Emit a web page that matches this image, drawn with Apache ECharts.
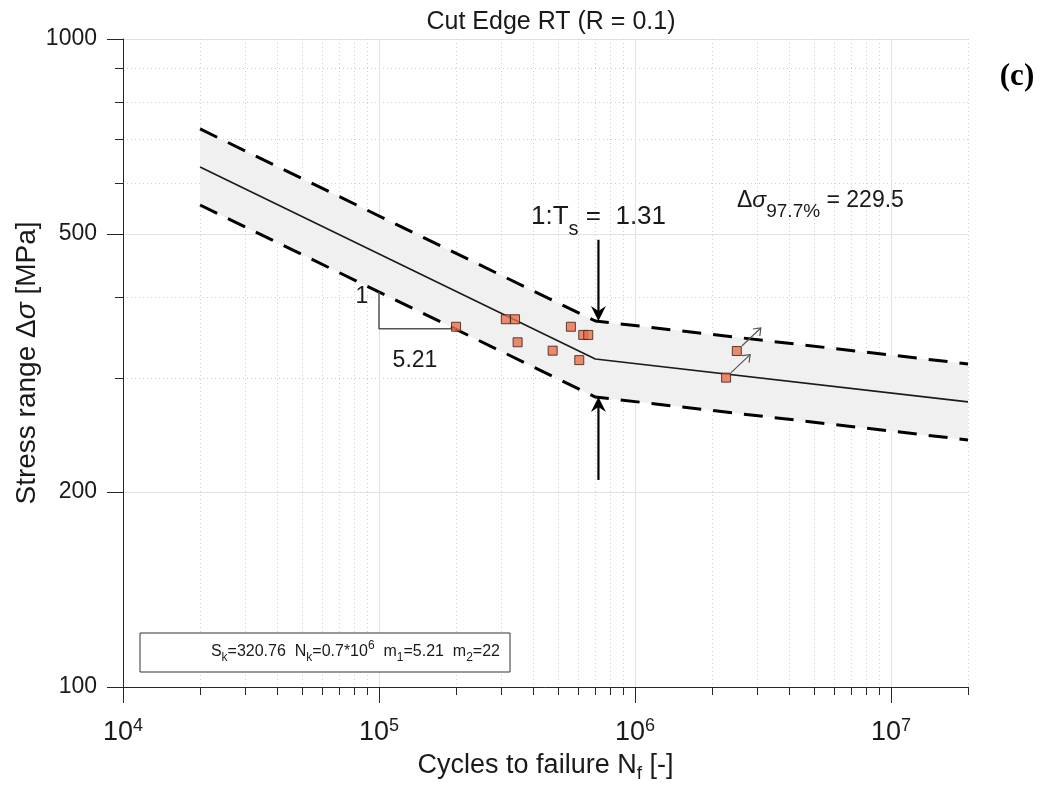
<!DOCTYPE html>
<html>
<head>
<meta charset="utf-8">
<title>Cut Edge RT (R = 0.1)</title>
<script src="https://cdn.jsdelivr.net/npm/echarts@6.0.0/dist/echarts.min.js"></script>
<style>
  html, body { margin: 0; padding: 0; background: #fff; }
  #chart { width: 1042px; height: 789px; }
</style>
</head>
<body>
<div id="chart"></div>
<script>
// test results (cycles to failure, stress range in MPa)
const testCycles = [2.0e5, 3.13e5, 3.40e5, 3.48e5, 4.77e5, 5.62e5, 6.06e5, 6.28e5, 6.57e5, 2.27e6, 2.50e6];
const testStress = [359.7, 369.4, 369.4, 340.4, 330.4, 359.7, 319.5, 349.4, 349.4, 300.2, 330.0];
// run-outs, drawn with a small arrow
const runoutCycles = [2.27e6, 2.50e6];
const runoutStress = [300.2, 330.0];

// S-N curve vertices: start, knee point, end
const curveCycles = [2.0e4, 7.0e5, 2.0e7];
const curveMean = [634.6, 320.8, 275.4];
const curveUpper = [726.4, 367.1, 315.2];
const curveLower = [554.4, 280.2, 240.6];

// slope triangle 1 : 5.21
const slopeCycles = [1e5, 1e5, 2e5];
const slopeStress = [407, 357, 357];

// scatter band arrows at the knee: cycles, from, to
const kneeArrowCycles = [7.2e5, 7.2e5];
const kneeArrowFrom = [490, 208.7];
const kneeArrowTo = [367, 280.2];

const xMajorTicks = [1e4, 1e5, 1e6, 1e7];
const xMinorTicks = [2e4, 3e4, 4e4, 5e4, 6e4, 7e4, 8e4, 9e4,
  2e5, 3e5, 4e5, 5e5, 6e5, 7e5, 8e5, 9e5,
  2e6, 3e6, 4e6, 5e6, 6e6, 7e6, 8e6, 9e6, 2e7];
const yMajorTicks = [100, 200, 500, 1000];
const yMinorTicks = [300, 400, 600, 700, 800, 900];

const FONT = 'Liberation Sans';
const INK = '#1a1a1a';
const AXIS = '#262626';

const chart = echarts.init(document.getElementById('chart'));

const gridBox = { left: 123, right: 74, top: 39, bottom: 102, outerBoundsMode: 'none' };

const zip = (xs, ys) => xs.map((x, i) => [x, ys[i]]);

const option = {
  backgroundColor: '#fff',
  animation: false,
  title: {
    text: 'Cut Edge RT (R = 0.1)',
    left: 546,
    top: 5,
    textAlign: 'center',
    textStyle: { fontFamily: FONT, fontSize: 25, fontWeight: 'normal', color: INK }
  },
  grid: [
    Object.assign({}, gridBox),
    Object.assign({}, gridBox)
  ],
  xAxis: [
    {
      type: 'log',
      gridIndex: 0,
      min: 1e4,
      max: 2e7,
      name: 'Cycles to failure N{sub|f} [-]',
      nameLocation: 'middle',
      nameGap: 61,
      nameTextStyle: {
        fontFamily: FONT, fontSize: 27, color: INK,
        rich: { sub: { fontFamily: FONT, fontSize: 19, color: INK, padding: [16, 0, 0, 0] } }
      },
      axisLine: { lineStyle: { color: AXIS, width: 1 } },
      axisTick: { customValues: xMajorTicks, length: 16, lineStyle: { color: AXIS, width: 1 } },
      axisLabel: {
        customValues: xMajorTicks,
        margin: 30,
        formatter: v => '{b|10}{e|' + Math.round(Math.log10(v)) + '}',
        rich: {
          b: { fontFamily: FONT, fontSize: 27, color: INK },
          e: { fontFamily: FONT, fontSize: 18, color: INK, padding: [0, 0, 14, 0] }
        }
      },
      splitLine: { show: true, lineStyle: { color: '#e2e2e2', width: 1 } }
    },
    {
      type: 'log',
      gridIndex: 1,
      min: 1e4,
      max: 2e7,
      axisLine: { show: false },
      axisTick: { customValues: xMinorTicks, length: 8, lineStyle: { color: AXIS, width: 1 } },
      axisLabel: { show: false },
      splitLine: { show: true, lineStyle: { color: '#cfcfcf', width: 1, type: [1, 3] } }
    }
  ],
  yAxis: [
    {
      type: 'log',
      gridIndex: 0,
      min: 100,
      max: 1000,
      name: 'Stress range \u0394{i|\u03c3} [MPa]',
      nameLocation: 'middle',
      nameGap: 82,
      nameMoveOverlap: false,
      nameTextStyle: {
        fontFamily: FONT, fontSize: 28, color: INK,
        rich: { i: { fontFamily: FONT, fontSize: 28, fontStyle: 'italic', color: INK } }
      },
      axisLine: { lineStyle: { color: AXIS, width: 1 } },
      axisTick: { customValues: yMajorTicks, length: 16, lineStyle: { color: AXIS, width: 1 } },
      axisLabel: {
        customValues: yMajorTicks,
        margin: 26,
        formatter: v => String(Math.round(v)),
        fontFamily: FONT, fontSize: 23, color: INK
      },
      splitLine: { show: true, lineStyle: { color: '#e2e2e2', width: 1 } }
    },
    {
      type: 'log',
      gridIndex: 1,
      min: 100,
      max: 1000,
      axisLine: { show: false },
      axisTick: { customValues: yMinorTicks, length: 8, lineStyle: { color: AXIS, width: 1 } },
      axisLabel: { show: false },
      splitLine: { show: true, lineStyle: { color: '#cfcfcf', width: 1, type: [1, 3] } }
    }
  ],
  series: [
    {
      // grey scatter band between the upper and lower curve
      name: 'band',
      type: 'custom',
      silent: true,
      z: 1,
      data: zip(curveCycles, curveMean),
      renderItem: (params, api) => {
        if (params.dataIndex !== 0) return null;
        const top = curveCycles.map((c, i) => api.coord([c, curveUpper[i]]));
        const bottom = curveCycles.map((c, i) => api.coord([c, curveLower[i]])).reverse();
        return { type: 'polygon', shape: { points: top.concat(bottom) }, style: { fill: '#f0f0f0' } };
      }
    },
    {
      name: 'mean',
      type: 'line',
      data: zip(curveCycles, curveMean),
      symbol: 'none',
      z: 3,
      lineStyle: { color: INK, width: 1.6 }
    },
    {
      name: 'upper',
      type: 'line',
      data: zip(curveCycles, curveUpper),
      symbol: 'none',
      z: 3,
      lineStyle: { color: '#000', width: 3, type: [19, 12] }
    },
    {
      name: 'lower',
      type: 'line',
      data: zip(curveCycles, curveLower),
      symbol: 'none',
      z: 3,
      lineStyle: { color: '#000', width: 3, type: [19, 12] }
    },
    {
      name: 'slope',
      type: 'line',
      data: zip(slopeCycles, slopeStress),
      symbol: 'none',
      z: 3,
      lineStyle: { color: '#555', width: 1.5 }
    },
    {
      name: 'knee arrows',
      type: 'custom',
      silent: true,
      z: 4,
      data: kneeArrowCycles.map((c, i) => [c, kneeArrowFrom[i], kneeArrowTo[i]]),
      encode: { x: 0, y: [1, 2] },
      renderItem: (params, api) => {
        const from = api.coord([api.value(0), api.value(1)]);
        const tip = api.coord([api.value(0), api.value(2)]);
        const d = Math.sign(tip[1] - from[1]);
        const L = 15, W = 7.5, notch = 5;
        return {
          type: 'group',
          children: [
            { type: 'line', shape: { x1: from[0], y1: from[1], x2: tip[0], y2: tip[1] - d * 6 }, style: { stroke: '#000', lineWidth: 2.2 } },
            {
              type: 'polygon',
              shape: { points: [[tip[0], tip[1]], [tip[0] - W, tip[1] - d * L], [tip[0], tip[1] - d * (L - notch)], [tip[0] + W, tip[1] - d * L]] },
              style: { fill: '#000' }
            }
          ]
        };
      }
    },
    {
      name: 'runout arrows',
      type: 'custom',
      silent: true,
      z: 4,
      data: zip(runoutCycles, runoutStress),
      renderItem: (params, api) => {
        const p = api.coord([api.value(0), api.value(1)]);
        const x1 = p[0] + 5, y1 = p[1] - 5, x2 = p[0] + 24, y2 = p[1] - 23;
        return {
          type: 'group',
          children: [
            { type: 'line', shape: { x1, y1, x2, y2 }, style: { stroke: '#555', lineWidth: 1.2 } },
            { type: 'polyline', shape: { points: [[x2 - 8, y2 + 1], [x2, y2], [x2 - 1, y2 + 8]] }, style: { stroke: '#555', lineWidth: 1.2, fill: null } }
          ]
        };
      }
    },
    {
      name: 'tests',
      type: 'scatter',
      data: zip(testCycles, testStress),
      symbol: 'rect',
      symbolSize: 9,
      z: 5,
      itemStyle: { color: '#e96f4a', borderColor: '#3b1c12', borderWidth: 1 }
    }
  ],
  graphic: [
    { type: 'text', z: 100, x: 362, y: 297, style: { text: '1', fontFamily: FONT, fontSize: 23, fill: INK, align: 'center', verticalAlign: 'middle' } },
    { type: 'text', z: 100, x: 415, y: 361, style: { text: '5.21', fontFamily: FONT, fontSize: 23, fill: INK, align: 'center', verticalAlign: 'middle' } },
    {
      type: 'text', z: 100, x: 531, y: 217,
      style: {
        text: '{m|1:T}{s|s}{m| =  1.31}',
        verticalAlign: 'middle',
        rich: {
          m: { fontFamily: FONT, fontSize: 26, fill: INK },
          s: { fontFamily: FONT, fontSize: 20, fill: INK, padding: [24, 0, 0, 0] }
        }
      }
    },
    {
      type: 'text', z: 100, x: 737, y: 201,
      style: {
        text: '{m|\u0394}{i|\u03c3}{s|97.7%}{m| = 229.5}',
        verticalAlign: 'middle',
        rich: {
          m: { fontFamily: FONT, fontSize: 23, fill: INK },
          i: { fontFamily: FONT, fontSize: 23, fontStyle: 'italic', fill: INK },
          s: { fontFamily: FONT, fontSize: 19, fill: INK, padding: [22, 0, 0, 0] }
        }
      }
    },
    { type: 'rect', z: 100, shape: { x: 140, y: 633, width: 370, height: 39 }, style: { fill: '#fff', stroke: '#333', lineWidth: 1 } },
    {
      type: 'text', z: 101, x: 500, y: 652,
      style: {
        text: '{m|S}{s|k}{m|=320.76  N}{s|k}{m|=0.7*10}{p|6}{m|  m}{s|1}{m|=5.21  m}{s|2}{m|=22}',
        align: 'right',
        verticalAlign: 'middle',
        rich: {
          m: { fontFamily: FONT, fontSize: 16, fill: INK },
          s: { fontFamily: FONT, fontSize: 12, fill: INK, padding: [12, 0, 0, 0] },
          p: { fontFamily: FONT, fontSize: 12, fill: INK, padding: [0, 0, 12, 0] }
        }
      }
    },
    { type: 'text', z: 100, x: 1017, y: 77, style: { text: '(c)', fontFamily: 'Liberation Serif', fontWeight: 'bold', fontSize: 31, fill: '#000', align: 'center', verticalAlign: 'middle' } }
  ]
};

chart.setOption(option);
</script>
</body>
</html>
